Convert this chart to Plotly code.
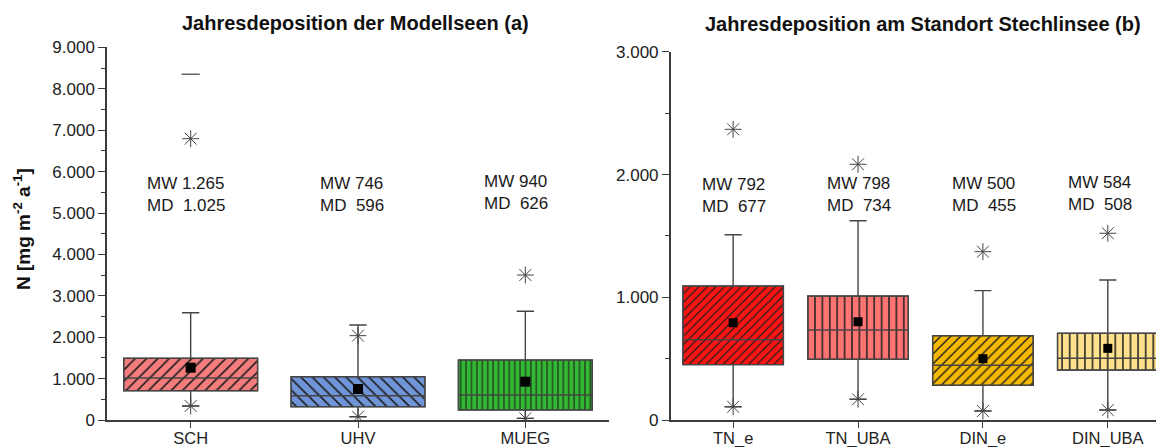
import plotly.graph_objects as go

# ---------------- data: panel (a) ----------------
left_cats = ["SCH", "UHV", "MUEG"]
left_q1 = [708, 321, 242]
left_median = [1014, 587, 604]
left_q3 = [1490, 1046, 1449]
left_mean = [1263, 749, 925]
left_whisk_hi = [2592, 2295, 2626]
left_whisk_lo = [338, 80, 40]
left_p99 = [6795, 2037, 3502]
left_p01 = [338, 80, 40]
left_max_cats = ["SCH"]
left_max = [8350]
left_mw = ["1.265", "746", "940"]
left_md = ["1.025", "596", "626"]
left_colors = ["#F47C7C", "#6F95D8", "#33B833"]
left_patterns = ["/", "\\", "|"]
left_psize = [8, 8, 5.4]

# ---------------- data: panel (b) ----------------
right_cats = ["TN_e", "TN_UBA", "DIN_e", "DIN_UBA"]
right_q1 = [451, 495, 283, 407]
right_median = [654, 733, 446, 503]
right_q3 = [1092, 1010, 687, 707]
right_mean = [793, 801, 500, 584]
right_whisk_hi = [1510, 1624, 1054, 1141]
right_whisk_lo = [108, 169, 73, 81]
right_p99 = [2369, 2084, 1372, 1522]
right_p01 = [108, 169, 73, 81]
right_mw = ["792", "798", "500", "584"]
right_md = ["677", "734", "455", "508"]
right_colors = ["#FF1414", "#FF7373", "#F5B800", "#FFE08C"]
right_patterns = ["/", "|", "/", "|"]
right_psize = [6, 7.4, 7, 7.6]

FONT = "Liberation Sans, Arial, sans-serif"
LINE = "#454545"
STAR = "#444444"

# the page body has an 8px margin: figure is sized to fill the rest of the window
W, H, OFF = 1156, 439, 8


def px_x(p):
    return (p - OFF) / W


def px_y(p):
    return 1 - (p - OFF) / H


fig = go.Figure()


def add_panel(cats, q1, med, q3, mean, whi, wlo, p99, p01, colors, pats, psizes,
              xa, ya, boxw, capw, msize):
    for i, c in enumerate(cats):
        fig.add_trace(go.Bar(
            x=[c], y=[q3[i] - q1[i]], base=[q1[i]], width=boxw,
            marker=dict(color=colors[i], line=dict(color=LINE, width=1.2),
                        pattern=dict(shape=pats[i], size=psizes[i], solidity=0.2,
                                     fgcolor="#1e1e1e", bgcolor=colors[i],
                                     fillmode="replace")),
            xaxis=xa, yaxis=ya, showlegend=False, hoverinfo="skip"))
    fig.add_trace(go.Box(
        x=cats, q1=q1, median=med, q3=q3, lowerfence=wlo, upperfence=whi,
        width=boxw, whiskerwidth=capw, fillcolor="rgba(0,0,0,0)",
        line=dict(color=LINE, width=1.4), boxpoints=False,
        xaxis=xa, yaxis=ya, showlegend=False, hoverinfo="skip"))
    fig.add_trace(go.Scatter(
        x=cats + cats, y=p99 + p01, mode="markers",
        marker=dict(symbol="asterisk-open", size=14, color=STAR,
                    line=dict(color=STAR, width=1.0)),
        xaxis=xa, yaxis=ya, showlegend=False, hoverinfo="skip"))
    fig.add_trace(go.Scatter(
        x=cats, y=mean, mode="markers",
        marker=dict(symbol="square", size=msize, color="black"),
        xaxis=xa, yaxis=ya, showlegend=False, hoverinfo="skip"))


add_panel(left_cats, left_q1, left_median, left_q3, left_mean, left_whisk_hi,
          left_whisk_lo, left_p99, left_p01, left_colors, left_patterns, left_psize,
          "x", "y", 0.8, 0.13, 10)
fig.add_trace(go.Scatter(
    x=left_max_cats, y=left_max, mode="markers",
    marker=dict(symbol="line-ew-open", size=13, color="#666",
                line=dict(color="#666", width=1.5)),
    xaxis="x", yaxis="y", showlegend=False, hoverinfo="skip"))
add_panel(right_cats, right_q1, right_median, right_q3, right_mean, right_whisk_hi,
          right_whisk_lo, right_p99, right_p01, right_colors, right_patterns, right_psize,
          "x2", "y2", 0.805, 0.17, 9)

# MW / MD text blocks
left_tx = [-0.272, -0.24, -0.258]
left_ty = [5447, 5447, 5490]
right_tx = [-0.268, -0.266, -0.264, -0.334]
right_ty = [1826, 1834, 1838, 1846]
ann = []
for i, c in enumerate(left_cats):
    ann.append(dict(x=i + left_tx[i], y=left_ty[i], xref="x", yref="y",
                    text=f"MW {left_mw[i]}<br>MD\u00a0 {left_md[i]}",
                    showarrow=False, xanchor="left", yanchor="middle", align="left",
                    font=dict(family=FONT, size=17, color="#1a1a1a")))
for i, c in enumerate(right_cats):
    ann.append(dict(x=i + right_tx[i], y=right_ty[i], xref="x2", yref="y2",
                    text=f"MW {right_mw[i]}<br>MD\u00a0 {right_md[i]}",
                    showarrow=False, xanchor="left", yanchor="middle", align="left",
                    font=dict(family=FONT, size=17, color="#1a1a1a")))
ann.append(dict(x=px_x(355.7), y=px_y(23), xref="paper", yref="paper",
                text="<b>Jahresdeposition der Modellseen (a)</b>", showarrow=False,
                xanchor="center", yanchor="middle",
                font=dict(family=FONT, size=20, color="#111")))
ann.append(dict(x=px_x(922.6), y=px_y(24), xref="paper", yref="paper",
                text="<b>Jahresdeposition am Standort Stechlinsee (b)</b>", showarrow=False,
                xanchor="center", yanchor="middle",
                font=dict(family=FONT, size=20, color="#111")))
ann.append(dict(x=px_x(22), y=px_y(229), xref="paper", yref="paper",
                text="<b>N [mg m<sup>-2</sup> a<sup>-1</sup>]</b>", showarrow=False,
                textangle=-90, xanchor="center", yanchor="middle",
                font=dict(family=FONT, size=19, color="#111")))

axis_common = dict(showline=True, linecolor="#3c3c3c", linewidth=1.5, showgrid=False,
                   zeroline=False, ticks="outside", tickcolor="#3c3c3c", ticklen=7,
                   tickwidth=1.3, tickfont=dict(family=FONT, size=17, color="#222"),
                   automargin=False)
xtick = dict(ticklen=6, ticklabelstandoff=-4, tickfont=dict(family=FONT, size=16.5, color="#222"))

fig.update_layout(
    width=W, height=H, margin=dict(l=0, r=0, t=0, b=0),
    paper_bgcolor="white", plot_bgcolor="white", separators=",.",
    showlegend=False, annotations=ann, barmode="overlay",
    xaxis=dict(axis_common, domain=[px_x(107), px_x(609)], range=[-0.5, 2.5],
               type="category", categoryorder="array", categoryarray=left_cats,
               **xtick),
    yaxis=dict(axis_common, domain=[px_y(420), px_y(47.4)], range=[0, 9000], dtick=1000,
               separatethousands=True, anchor="x",
               minor=dict(dtick=500, ticks="outside", ticklen=4, tickcolor="#3c3c3c")),
    xaxis2=dict(axis_common, domain=[px_x(670.7), 1.0], range=[-0.5, 3.45],
                type="category", categoryorder="array", categoryarray=right_cats,
                anchor="y2", **xtick),
    yaxis2=dict(axis_common, domain=[px_y(420), px_y(51.9)], range=[0, 3000], dtick=1000,
                separatethousands=True, anchor="x2",
                minor=dict(dtick=500, ticks="outside", ticklen=4, tickcolor="#3c3c3c")),
)

fig.write_html("out.html")
